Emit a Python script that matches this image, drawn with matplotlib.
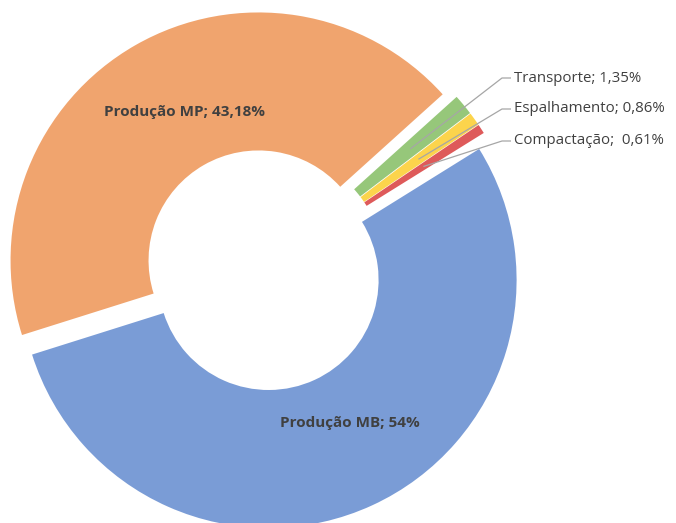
import numpy as np
import matplotlib.pyplot as plt

# share of each activity in the total (%), in drawing order
categories = ["Produção MP", "Transporte", "Espalhamento", "Compactação", "Produção MB"]
shares = [43.18, 1.35, 0.86, 0.61, 54.0]
share_labels = ["43,18%", "1,35%", "0,86%", "0,61%", "54%"]
colors = ["#F0A46E", "#96C77A", "#FCD44C", "#DE5A5A", "#7A9CD6"]

W, H = 676, 523
plt.rcParams['font.family'] = ['Open Sans', 'DejaVu Sans']

fig = plt.figure(figsize=(W / 100, H / 100), dpi=100)
ax = fig.add_axes([0, 0, 1, 1])

R_OUT, R_IN = 248, 110
wedges, _ = ax.pie(shares, colors=colors, startangle=197.5, counterclock=False,
                   radius=R_OUT, center=(264, H - 270), explode=[11] * len(shares),
                   wedgeprops=dict(width=R_OUT - R_IN, linewidth=0))

ax.set_xlim(0, W)
ax.set_ylim(0, H)
ax.set_aspect('equal')
ax.axis('off')

txt_color = "#404040"

# labels inside the two big slices
inner = {0: (185, H - 112), 4: (350, H - 423)}
for i, (x, y) in inner.items():
    ax.text(x, y, f"{categories[i]}; {share_labels[i]}", ha='center', va='center',
            fontsize=11, fontweight='bold', color=txt_color)

# outside labels with leader lines for the thin slices
outer_y = {1: H - 78, 2: H - 109, 3: H - 141}
lx = 514
for i, ty in outer_y.items():
    w = wedges[i]
    tm = np.deg2rad((w.theta1 + w.theta2) / 2)
    rm = (R_OUT + R_IN) / 2
    px = w.center[0] + rm * np.cos(tm)
    py = w.center[1] + rm * np.sin(tm)
    ax.plot([px, lx - 12, lx - 3], [py, ty, ty], color="#A6A6A6", lw=0.9,
            solid_capstyle='butt')
    sep = ";  " if i == 3 else "; "
    ax.text(lx, ty, f"{categories[i]}{sep}{share_labels[i]}", ha='left', va='center',
            fontsize=10.8, color=txt_color)

fig.savefig("out.png", dpi=100)
